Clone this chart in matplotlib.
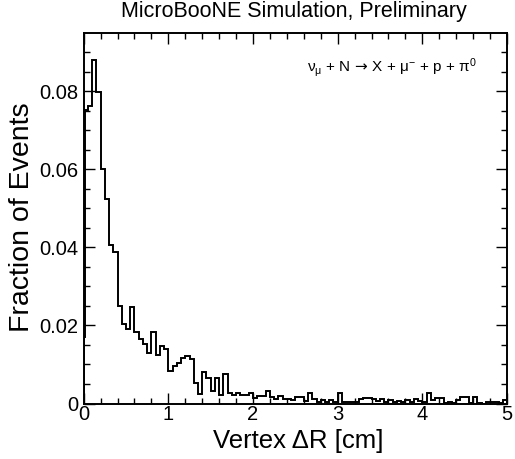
import numpy as np
import matplotlib
matplotlib.use("Agg")
import matplotlib.pyplot as plt
from matplotlib.ticker import MultipleLocator, FuncFormatter

plt.rcParams['font.family'] = ['Liberation Sans', 'DejaVu Sans']
plt.rcParams['mathtext.fontset'] = 'custom'
plt.rcParams['mathtext.rm'] = 'Liberation Sans'
plt.rcParams['mathtext.it'] = 'Liberation Sans'
plt.rcParams['mathtext.bf'] = 'Liberation Sans:bold'
plt.rcParams['mathtext.sf'] = 'DejaVu Sans'

# Vertex displacement histogram (fraction of events per bin)
bin_edges = [0.0, 0.02] + [round(0.05 * i, 2) for i in range(1, 101)]
fractions = [
    0.0171, 0.0752,
    0.0763, 0.0879, 0.0799, 0.0601, 0.0525, 0.0405, 0.0389, 0.0249, 0.0203,
    0.0192, 0.0246, 0.0183, 0.0166, 0.0152, 0.0129, 0.0183, 0.0123, 0.0147,
    0.0139, 0.0084, 0.0097, 0.0105, 0.0116, 0.0122, 0.0113, 0.0053, 0.0025,
    0.0081, 0.0066, 0.0033, 0.0066, 0.0021, 0.0075, 0.0028, 0.0022, 0.0026,
    0.0021, 0.0021, 0.0028, 0.0014, 0.0019, 0.0019, 0.0033, 0.0017, 0.0012,
    0.0019, 0.0012, 0.0012, 0.0009, 0.0016, 0.0016, 0.0007, 0.0028, 0.0011,
    0.0005, 0.0009, 0.0005, 0.0009, 0.0005, 0.0028, 0.0004, 0.0004, 0.0004,
    0.0004, 0.0011, 0.0014, 0.0013, 0.0011, 0.0007, 0.0011, 0.0004, 0.0009,
    0.0004, 0.0007, 0.0004, 0.0009, 0.0004, 0.0011, 0.0007, 0.0004, 0.0026,
    0.0009, 0.0013, 0.0013, 0.0002, 0.0004, 0.0002, 0.0009, 0.0016, 0.0016,
    0.0002, 0.0016, 0.0002, 0.0000, 0.0004, 0.0004, 0.0004, 0.0002, 0.0009,
]

x_ticks = [0, 1, 2, 3, 4, 5]
y_ticks = [0, 0.02, 0.04, 0.06, 0.08]

title = "MicroBooNE Simulation, Preliminary"
x_title = "Vertex \u0394R [cm]"
y_title = "Fraction of Events"
process = r"$\nu_{\mu}$ + N$\,\mathsf{\rightarrow}\,$X + $\mu^{-}$ + p + $\pi^{0}$"

W, H = 515, 459
fig = plt.figure(figsize=(W / 100, H / 100), dpi=100)
left, right, top, bottom = 83.7, 507.0, 33.0, 403.5
ax = fig.add_axes([left / W, 1 - bottom / H, (right - left) / W, (bottom - top) / H])

ax.stairs(fractions, bin_edges, color='black', linewidth=1.4, baseline=0)

ax.set_xlim(0, 5)
ax.set_ylim(0, 0.0949)
ax.set_xticks(x_ticks)
ax.set_yticks(y_ticks)
ax.xaxis.set_minor_locator(MultipleLocator(0.2))
ax.yaxis.set_minor_locator(MultipleLocator(0.005))
ax.xaxis.set_major_formatter(FuncFormatter(lambda v, p: f"{v:g}"))
ax.yaxis.set_major_formatter(FuncFormatter(lambda v, p: "0" if v == 0 else f"{v:.2f}"))

for s in ax.spines.values():
    s.set_linewidth(1.4)
ax.tick_params(which='both', direction='in', top=True, right=True, width=1.0,
               labelsize=14.5)
ax.tick_params(which='major', length=8)
ax.tick_params(which='minor', length=4)
ax.tick_params(axis='x', pad=1)
ax.tick_params(axis='y', pad=4)

fig.text(294 / W, 1 - 12 / H, title, ha='center', va='center', fontsize=15.5)
fig.text(298 / W, 1 - 441 / H, x_title, ha='center', va='center', fontsize=18.5)
fig.text(22 / W, 1 - 217 / H, y_title, ha='center', va='center', rotation=90,
         fontsize=20.5)
ax.text(0.527, 0.906, process, transform=ax.transAxes, ha='left', va='center',
        fontsize=11)

fig.savefig("out.png", dpi=100)
